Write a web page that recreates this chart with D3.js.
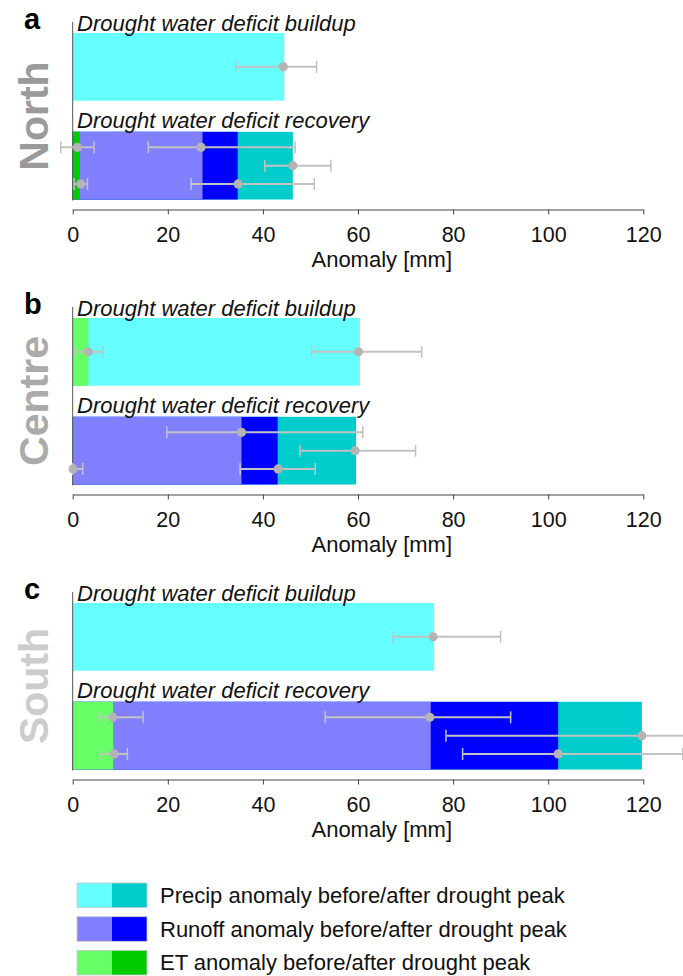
<!DOCTYPE html>
<html>
<head>
<meta charset="utf-8">
<script src="https://cdn.jsdelivr.net/npm/d3@7"></script>
<style>
  body { margin: 0; background: #fff; }
  svg text { font-family: "Liberation Sans", Helvetica, Arial, sans-serif; }
</style>
</head>
<body>
<div id="chart"></div>
<script>
// regions / panels
const regions = ["North", "Centre", "South"];
const panelLetters = ["a", "b", "c"];
const regionGrey = ["#9a9a9a", "#aaaaaa", "#cccccc"];
const phases = ["Drought water deficit buildup", "Drought water deficit recovery"];
const xTicks = [0, 20, 40, 60, 80, 100, 120];

// bar values [mm] per region (North, Centre, South), bars start at 0 and overlap
const buildPrecipBefore = [44.5, 60.4, 76.0];
const buildEtBefore = [0, 3.3, 0];
const recPrecipAfter = [46.3, 59.6, 119.7];
const recRunoffAfter = [34.7, 43.1, 102.1];
const recRunoffBefore = [27.3, 35.5, 75.3];
const recEtAfter = [1.5, 0, 0];
const recEtBefore = [0, 0, 8.5];

// error bars: region index, phase index, row (0-2 in recovery, 1 = middle), mean, low, high
const errRegion = [0, 0, 0, 0, 0, 0, 1, 1, 1, 1, 1, 1, 2, 2, 2, 2, 2, 2];
const errPhase  = [0, 1, 1, 1, 1, 1, 0, 0, 1, 1, 1, 1, 0, 1, 1, 1, 1, 1];
const errRow    = [1, 0, 0, 1, 2, 2, 1, 1, 0, 1, 2, 2, 1, 0, 0, 1, 2, 2];
const errMean   = [44.3, 1.0, 27.0, 46.3, 1.7, 34.8, 3.3, 60.1, 35.5, 59.4, 0.1, 43.2, 75.8, 8.4, 75.1, 119.7, 8.7, 102.1];
const errLow    = [34.3, -2.5, 15.9, 40.4, 0.3, 24.9, 0.5, 50.3, 19.8, 47.8, 0, 35.2, 67.4, 5.6, 53.1, 78.5, 6.0, 82.0];
const errHigh   = [51.3, 4.5, 46.8, 54.3, 3.1, 50.8, 6.4, 73.4, 61.0, 72.1, 2.1, 51.0, 90.0, 14.8, 92.1, 132, 11.5, 128.3];

// legend
const legendLabels = [
  "Precip anomaly before/after drought peak",
  "Runoff anomaly before/after drought peak",
  "ET anomaly before/after drought peak"
];
const legendKeys = ["precip", "runoff", "et"];

const colors = {
  precip: ["#66ffff", "#00cccc"],
  runoff: ["#8080ff", "#0000ff"],
  et: ["#66ff66", "#00cc00"]
};

const W = 683, H = 976;
const panelTop = [33, 318, 603];

const svg = d3.select("#chart").append("svg")
  .attr("width", W)
  .attr("height", H);

const x = d3.scaleLinear().domain([0, 120]).range([72.7, 643.3]);

const y = d3.scaleBand()
  .domain(phases)
  .range([0, 166.5])
  .paddingInner(0.315);

const rowScale = d3.scalePoint()
  .domain([0, 1, 2])
  .range([0, y.bandwidth()])
  .padding(0.85);

regions.forEach((region, i) => {
  const g = svg.append("g").attr("transform", `translate(0,${panelTop[i]})`);

  // bars for this region, drawn largest first so smaller overlap on top
  const bars = [
    { phase: phases[0], v: buildPrecipBefore[i], c: colors.precip[0] },
    { phase: phases[0], v: buildEtBefore[i], c: colors.et[0] },
    { phase: phases[1], v: recPrecipAfter[i], c: colors.precip[1] },
    { phase: phases[1], v: recRunoffAfter[i], c: colors.runoff[1] },
    { phase: phases[1], v: recRunoffBefore[i], c: colors.runoff[0] },
    { phase: phases[1], v: recEtAfter[i], c: colors.et[1] },
    { phase: phases[1], v: recEtBefore[i], c: colors.et[0] }
  ].filter(d => d.v > 0);

  g.selectAll(".bar")
    .data(bars)
    .enter()
    .append("rect")
    .attr("class", "bar")
    .attr("x", x(0))
    .attr("y", d => y(d.phase))
    .attr("width", d => x(d.v) - x(0))
    .attr("height", y.bandwidth())
    .attr("fill", d => d.c);

  // left vertical axis line
  g.append("line")
    .attr("x1", x(0)).attr("x2", x(0))
    .attr("y1", -11).attr("y2", y(phases[1]) + y.bandwidth() + 1)
    .attr("stroke", "#555")
    .attr("stroke-width", 1);

  // phase titles
  g.selectAll(".title")
    .data(phases)
    .enter()
    .append("text")
    .attr("x", 77)
    .attr("y", d => y(d) - (d === phases[0] ? 2 : 4))
    .attr("font-size", "22px")
    .attr("font-style", "italic")
    .attr("fill", "#111")
    .text(d => d);

  // error bars
  const errs = errMean.map((m, k) => ({
    r: errRegion[k], p: errPhase[k], row: errRow[k], m: m, lo: errLow[k], hi: errHigh[k]
  })).filter(d => d.r === i);
  const ey = d => y(phases[d.p]) + rowScale(d.row);

  const eg = g.selectAll(".err").data(errs).enter().append("g").attr("class", "err");
  eg.append("line")
    .attr("x1", d => x(d.lo)).attr("x2", d => x(d.hi))
    .attr("y1", ey).attr("y2", ey)
    .attr("stroke", "#c2c2c2").attr("stroke-width", 2);
  eg.append("line")
    .attr("x1", d => x(d.lo)).attr("x2", d => x(d.lo))
    .attr("y1", d => ey(d) - 6).attr("y2", d => ey(d) + 6)
    .attr("stroke", "#c2c2c2").attr("stroke-width", 1.5);
  eg.append("line")
    .attr("x1", d => x(d.hi)).attr("x2", d => x(d.hi))
    .attr("y1", d => ey(d) - 6).attr("y2", d => ey(d) + 6)
    .attr("stroke", "#c2c2c2").attr("stroke-width", 1.5);
  eg.append("circle")
    .attr("cx", d => x(d.m))
    .attr("cy", ey)
    .attr("r", 4.6)
    .attr("fill", "#b4b4b4");

  // x axis
  const axisY = 176.5;
  const ax = g.append("g")
    .attr("transform", `translate(0,${axisY})`)
    .call(d3.axisBottom(x).tickValues(xTicks).tickSize(5).tickSizeOuter(0).tickPadding(12));
  ax.select(".domain").attr("stroke", "#444");
  ax.selectAll(".tick line").attr("stroke", "#444");
  ax.selectAll(".tick text")
    .attr("font-size", "21.5px")
    .attr("fill", "#111")
    .style("font-family", "'Liberation Sans', Helvetica, Arial, sans-serif");

  g.append("text")
    .attr("x", x(65))
    .attr("y", axisY + 57)
    .attr("text-anchor", "middle")
    .attr("font-size", "22px")
    .attr("fill", "#111")
    .text("Anomaly [mm]");

  // panel letter
  g.append("text")
    .attr("x", 24)
    .attr("y", -4)
    .attr("font-size", "29px")
    .attr("font-weight", "bold")
    .attr("fill", "#000")
    .text(panelLetters[i]);

  // region label
  g.append("text")
    .attr("transform", `translate(48,${83}) rotate(-90)`)
    .attr("text-anchor", "middle")
    .attr("font-size", "41px")
    .attr("font-weight", "bold")
    .attr("fill", regionGrey[i])
    .text(region);
});

// legend
const legend = svg.append("g").attr("transform", "translate(77,883)");
const ly = d3.scaleBand().domain(legendKeys).range([0, 92]).paddingInner(0.27);
const lx = d3.scaleBand().domain([0, 1]).range([0, 70]);

legendKeys.forEach((k, j) => {
  [0, 1].forEach(h => {
    legend.append("rect")
      .attr("x", lx(h))
      .attr("y", ly(k))
      .attr("width", lx.bandwidth())
      .attr("height", ly.bandwidth())
      .attr("fill", colors[k][h]);
  });
  legend.append("rect")
    .attr("x", 0)
    .attr("y", ly(k))
    .attr("width", 70)
    .attr("height", ly.bandwidth())
    .attr("fill", "none")
    .attr("stroke", "#c8c8c8")
    .attr("stroke-width", 0.8);
  legend.append("text")
    .attr("x", 83)
    .attr("y", ly(k) + ly.bandwidth() / 2)
    .attr("dy", "0.35em")
    .attr("font-size", "22px")
    .attr("fill", "#111")
    .text(legendLabels[j]);
});
</script>
</body>
</html>
